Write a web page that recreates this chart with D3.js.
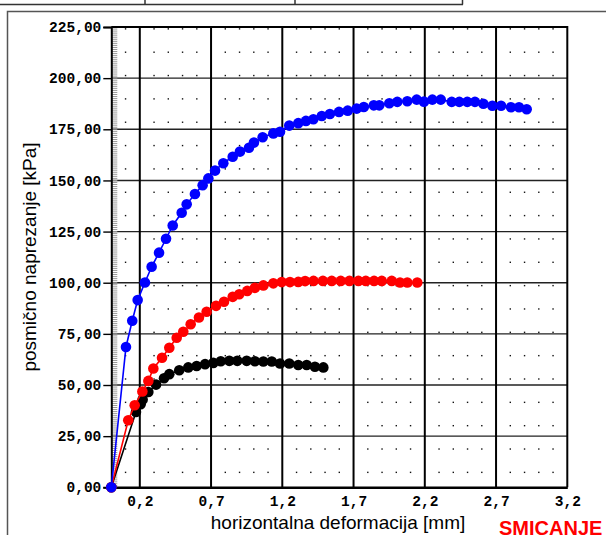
<!DOCTYPE html>
<html>
<head>
<meta charset="utf-8">
<script src="https://cdn.jsdelivr.net/npm/d3@7"></script>
<style>
  html, body { margin: 0; padding: 0; background: #fff; }
  svg { display: block; }
</style>
</head>
<body>
<svg id="chart" width="606" height="535"></svg>
<script>
// Shear test: shear stress vs horizontal displacement, three normal loads
const blueX = [0, 0.103, 0.147, 0.185, 0.236, 0.283, 0.335, 0.384, 0.431, 0.494, 0.529, 0.587, 0.641, 0.681, 0.728, 0.786, 0.852, 0.903, 0.966, 1.001, 1.062, 1.137, 1.184, 1.249, 1.312, 1.366, 1.418, 1.477, 1.534, 1.598, 1.659, 1.722, 1.772, 1.842, 1.881, 1.951, 2.007, 2.077, 2.143, 2.194, 2.253, 2.312, 2.389, 2.442, 2.498, 2.552, 2.611, 2.674, 2.735, 2.805, 2.861, 2.915];
const blueY = [0, 68.6, 81.4, 91.5, 100.1, 107.8, 114.7, 121.5, 128.0, 134.2, 138.3, 143.4, 147.7, 151.0, 154.8, 158.4, 161.6, 164.1, 166.0, 168.5, 171.1, 173.0, 173.8, 176.8, 178.0, 179.1, 179.9, 181.5, 182.5, 183.5, 184.1, 185.1, 185.9, 186.7, 186.7, 187.7, 188.4, 188.7, 189.5, 188.5, 189.5, 189.5, 188.4, 188.4, 188.4, 188.4, 187.5, 186.5, 186.5, 185.8, 185.8, 184.8];

const redX = [0, 0.119, 0.164, 0.218, 0.260, 0.295, 0.356, 0.407, 0.459, 0.505, 0.557, 0.615, 0.669, 0.735, 0.791, 0.852, 0.898, 0.954, 1.008, 1.067, 1.137, 1.196, 1.254, 1.312, 1.360, 1.419, 1.485, 1.547, 1.610, 1.671, 1.734, 1.786, 1.844, 1.898, 1.968, 2.026, 2.077, 2.147];
const redY = [0, 32.8, 40.1, 46.8, 52.0, 58.1, 63.3, 68.2, 73.1, 76.0, 79.7, 83.0, 85.8, 88.7, 90.7, 93.1, 94.4, 96.0, 97.5, 98.7, 99.7, 100.3, 100.3, 100.4, 100.8, 100.9, 100.9, 100.9, 100.9, 100.9, 100.9, 100.9, 100.9, 100.9, 100.9, 100.1, 100.1, 100.1];

const blackX = [0, 0.173, 0.206, 0.220, 0.260, 0.314, 0.370, 0.407, 0.477, 0.540, 0.599, 0.658, 0.716, 0.768, 0.828, 0.884, 0.950, 1.008, 1.067, 1.126, 1.184, 1.249, 1.312, 1.371, 1.429, 1.488];
const blackY = [0, 36.8, 40.6, 42.9, 46.6, 50.2, 53.3, 55.3, 57.2, 58.6, 59.3, 60.2, 60.8, 61.6, 61.8, 61.8, 61.8, 61.6, 61.5, 61.5, 60.5, 60.5, 59.8, 59.8, 58.9, 58.6];

const xTicks = [0.2, 0.7, 1.2, 1.7, 2.2, 2.7, 3.2];
const yTicks = [0, 25, 50, 75, 100, 125, 150, 175, 200, 225];

const xTitle = "horizontalna deformacija [mm]";
const yTitle = "posmično naprezanje [kPa]";
const cornerLabel = "SMICANJE";

const svg = d3.select("#chart");

// plot rectangle
const L = 111.3, R = 567.3, T = 27, B = 487.3;
const x = d3.scaleLinear().domain([0, 3.2]).range([L, R]);
const y = d3.scaleLinear().domain([0, 225]).range([B, T]);

// header table strip and outer chart frame
const frame = svg.append("g").attr("stroke", "#333").attr("stroke-width", 1.5).attr("fill", "none");
frame.append("line").attr("x1", 0).attr("x2", 463).attr("y1", 4.5).attr("y2", 4.5);
[145, 295, 462.5].forEach(v => frame.append("line").attr("x1", v).attr("x2", v).attr("y1", 0).attr("y2", 4.5));
svg.append("rect").attr("x", 7.5).attr("y", 11.5).attr("width", 610).attr("height", 540)
  .attr("fill", "none").attr("stroke", "#555").attr("stroke-width", 1.5);

// dotted minor grid (every 0.1 mm horizontally)
const dotCols = d3.range(1, 32).map(k => k / 10).filter(v => Math.abs(((v - 0.2) / 0.5) - Math.round((v - 0.2) / 0.5)) > 0.01);
const dotRows = d3.range(0, 20).map(k => 7.3 + k * 11.41);
const dots = svg.append("g").attr("fill", "#111");
dotCols.forEach(cx => dotRows.forEach(cy => {
  dots.append("rect").attr("x", x(cx) - 0.7).attr("y", y(cy) - 0.7).attr("width", 1.4).attr("height", 1.4);
}));

// horizontal grid
svg.append("g").selectAll("line").data(yTicks.filter(v => v > 0 && v < 225)).join("line")
  .attr("x1", L).attr("x2", R).attr("y1", d => y(d)).attr("y2", d => y(d))
  .attr("stroke", "#222").attr("stroke-width", 1.4);

// vertical grid
svg.append("g").selectAll("line").data(xTicks.filter(v => v < 3.2)).join("line")
  .attr("x1", d => x(d)).attr("x2", d => x(d)).attr("y1", T).attr("y2", B)
  .attr("stroke", "#000").attr("stroke-width", 2);

// plot border (top and right)
svg.append("path").attr("d", `M${L},${T}H${R}V${B}`).attr("fill", "none").attr("stroke", "#000").attr("stroke-width", 2);

// y axis: minor ticks every 1 kPa
svg.append("g").selectAll("line").data(d3.range(1, 225)).join("line")
  .attr("x1", L).attr("x2", L + 6).attr("y1", d => y(d)).attr("y2", d => y(d))
  .attr("stroke", "#999").attr("stroke-width", 1);

const yAxis = d3.axisLeft(y).tickValues(yTicks).tickSize(8).tickPadding(2)
  .tickFormat(d => d3.format(".2f")(d).replace(".", ","));
const gy = svg.append("g").attr("transform", `translate(${L},0)`).call(yAxis);
gy.select(".domain").attr("stroke", "#000").attr("stroke-width", 2);
gy.selectAll(".tick line").attr("stroke", "#000").attr("stroke-width", 1.4);
gy.selectAll(".tick text").attr("font-family", "'Liberation Mono', 'DejaVu Sans Mono', monospace")
  .attr("font-weight", "bold").attr("font-size", 14.5).attr("fill", "#000");

// x axis
const xAxis = d3.axisBottom(x).tickValues(xTicks).tickSize(0).tickPadding(8)
  .tickFormat(d => d3.format(".1f")(d).replace(".", ","));
const gx = svg.append("g").attr("transform", `translate(0,${B})`).call(xAxis);
gx.select(".domain").attr("stroke", "#000").attr("stroke-width", 2.5);
gx.selectAll(".tick text").attr("font-family", "'Liberation Mono', 'DejaVu Sans Mono', monospace")
  .attr("font-weight", "bold").attr("font-size", 14.5).attr("fill", "#000");

// series
const series = [
  { xs: blackX, ys: blackY, color: "#000000" },
  { xs: redX, ys: redY, color: "#ff0000" },
  { xs: blueX, ys: blueY, color: "#0000ff" }
];
const line = d3.line().x(d => x(d[0])).y(d => y(d[1]));
series.forEach(s => {
  const pts = s.xs.map((v, i) => [v, s.ys[i]]);
  const g = svg.append("g");
  g.append("path").attr("d", line(pts)).attr("fill", "none").attr("stroke", s.color).attr("stroke-width", 1.6);
  g.selectAll("circle").data(pts).join("circle")
    .attr("cx", d => x(d[0])).attr("cy", d => y(d[1])).attr("r", 5.3).attr("fill", s.color);
});

// titles
svg.append("text").attr("x", 338).attr("y", 529).attr("text-anchor", "middle")
  .attr("font-family", "'Liberation Sans', Arial, sans-serif").attr("font-size", 19).attr("fill", "#000")
  .text(xTitle);
svg.append("text").attr("transform", "translate(36,257) rotate(-90)").attr("text-anchor", "middle")
  .attr("font-family", "'Liberation Sans', Arial, sans-serif").attr("font-size", 19).attr("fill", "#000")
  .text(yTitle);
svg.append("text").attr("x", 499).attr("y", 534.5)
  .attr("font-family", "'Liberation Sans', Arial, sans-serif").attr("font-weight", "bold").attr("font-size", 20).attr("fill", "#ff0000")
  .text(cornerLabel);
</script>
</body>
</html>
